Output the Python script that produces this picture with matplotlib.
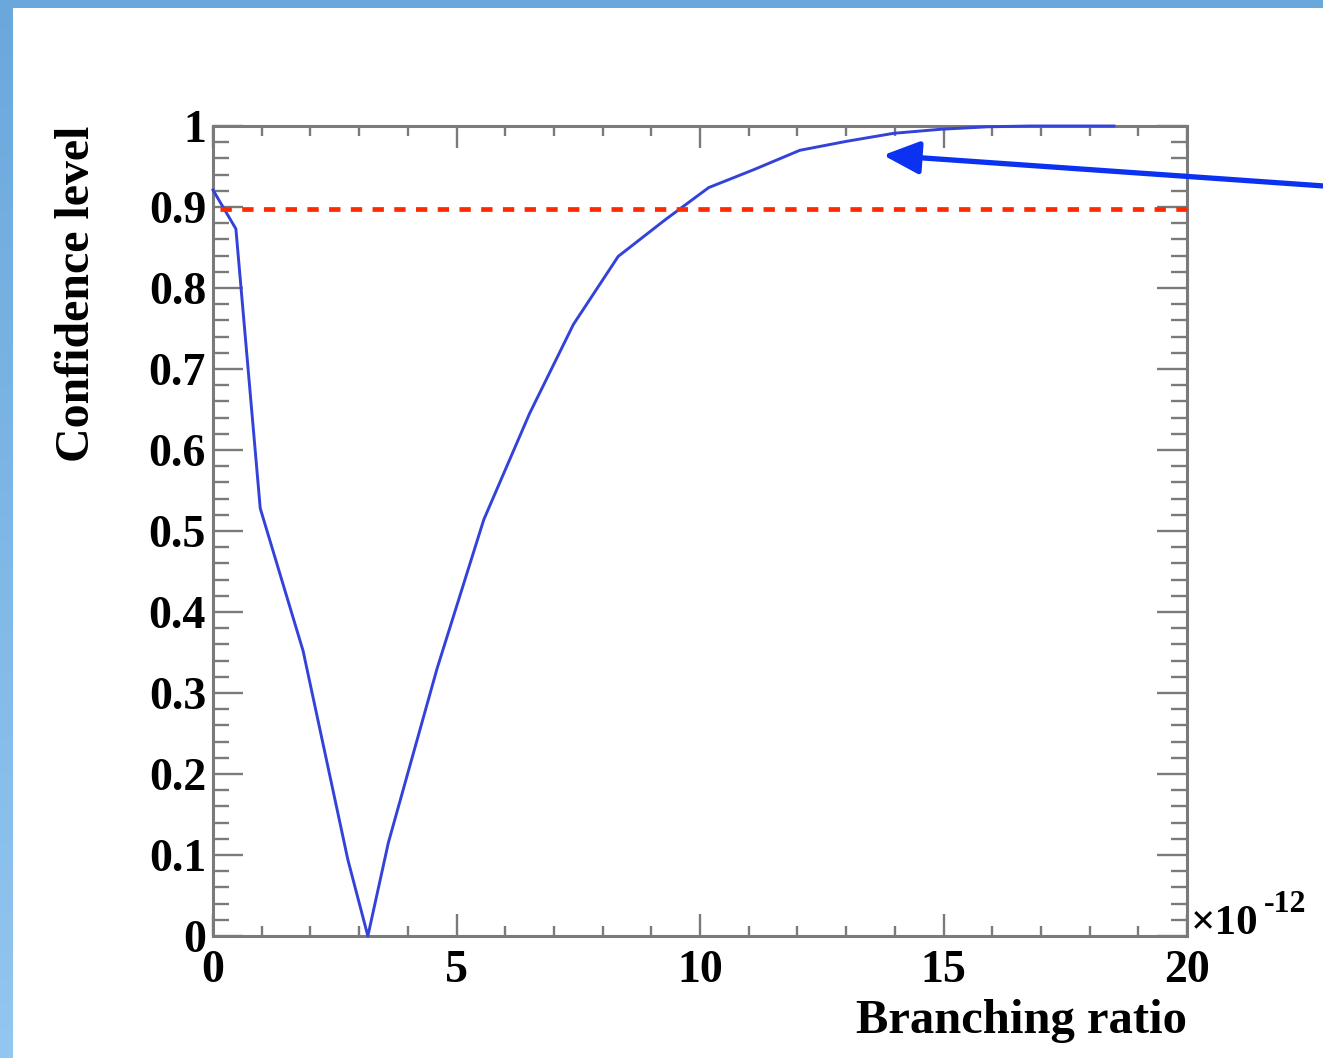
import numpy as np
import matplotlib
matplotlib.use("Agg")
import matplotlib.pyplot as plt
from matplotlib.ticker import MultipleLocator, FixedLocator
from matplotlib.colors import LinearSegmentedColormap

# ---- data ----
branching_ratio = [0.0, 0.47, 0.97, 1.85, 2.77, 3.18, 3.6, 4.6, 5.56, 6.5, 7.4, 8.32,
                   9.28, 10.18, 11.1, 12.05, 13.0, 13.98, 14.95, 15.9, 16.8, 17.7, 18.5]
confidence = [0.921, 0.873, 0.528, 0.352, 0.094, 0.0, 0.115, 0.330, 0.514, 0.645, 0.755,
              0.839, 0.884, 0.924, 0.946, 0.970, 0.981, 0.991, 0.996, 0.999, 1.0, 1.0, 1.0]
cl_level = 0.897
cl_range = [0.14, 20.05]
x_ticks = [0, 5, 10, 15, 20]
x_ticklabels = ["0", "5", "10", "15", "20"]
y_ticks = [0.0, 0.1, 0.2, 0.3, 0.4, 0.5, 0.6, 0.7, 0.8, 0.9, 1.0]
y_ticklabels = ["0", "0.1", "0.2", "0.3", "0.4", "0.5", "0.6", "0.7", "0.8", "0.9", "1"]
arrow_tip = (13.76, 0.964)
arrow_tail = (22.8, 0.926)

W, H = 1323, 1058
fig = plt.figure(figsize=(W / 100, H / 100), dpi=100)
fig.patch.set_facecolor("white")

# background frame (blue strips at left and top)
bg = fig.add_axes([0, 0, 1, 1], zorder=-10)
bg.set_xlim(0, W)
bg.set_ylim(H, 0)
bg.axis("off")
grad = np.linspace(0, 1, 256).reshape(-1, 1)
cmap = LinearSegmentedColormap.from_list("bl", ["#6aa8dc", "#93c6f0"])
bg.imshow(grad, cmap=cmap, extent=[0, 13, H, 0], aspect="auto")
bg.add_patch(plt.Rectangle((0, 0), W, 8, color="#6aa8dc", lw=0))

font = "Liberation Serif"
ax = fig.add_axes([213 / W, 1 - 936 / H, (1187 - 213) / W, (936 - 126) / H])
ax.set_facecolor("none")
ax.set_xlim(0, 20)
ax.set_ylim(0, 1)

ax.plot(branching_ratio, confidence, color="#3342d8", lw=2.1, zorder=3, clip_on=False)
ax.plot(cl_range, [cl_level, cl_level], color="#ff2a00", lw=3.4,
        dashes=(2.4, 2.2), zorder=4, clip_on=False)

ax.xaxis.set_major_locator(FixedLocator(x_ticks))
ax.set_xticklabels(x_ticklabels)
ax.xaxis.set_minor_locator(MultipleLocator(1))
ax.yaxis.set_major_locator(FixedLocator(y_ticks))
ax.set_yticklabels(y_ticklabels)
ax.yaxis.set_minor_locator(MultipleLocator(0.02))

spine_col = "#7a7a7a"
for s in ax.spines.values():
    s.set_color(spine_col)
    s.set_linewidth(2.2)
ax.tick_params(axis="x", which="major", direction="in", top=True, length=16, width=1.7,
               color=spine_col, pad=10)
ax.tick_params(axis="x", which="minor", direction="in", top=True, length=7.5, width=1.7,
               color=spine_col)
ax.tick_params(axis="y", which="major", direction="in", right=True, length=21.5, width=1.7,
               color=spine_col, pad=5)
ax.tick_params(axis="y", which="minor", direction="in", right=True, length=11.5, width=1.7,
               color=spine_col)
for lab in ax.get_xticklabels() + ax.get_yticklabels():
    lab.set_fontfamily(font)
    lab.set_fontweight("bold")
    lab.set_fontsize(33)
    lab.set_color("black")

ax.text(-0.1396, 1.0, "Confidence level", rotation=90, ha="center", va="top",
        transform=ax.transAxes, fontfamily=font, fontweight="bold", fontsize=34.5)
ax.text(1.0, -0.1198, "Branching ratio", ha="right", va="baseline",
        transform=ax.transAxes, fontfamily=font, fontweight="bold", fontsize=35)
ax.text(1.004, 0.0025, "\u00d710", ha="left", va="baseline",
        transform=ax.transAxes, fontfamily=font, fontweight="bold", fontsize=31)
ax.text(1.079, 0.021, "-12", ha="left", va="bottom",
        transform=ax.transAxes, fontfamily=font, fontweight="bold", fontsize=23)

ax.annotate("", xy=arrow_tip, xytext=arrow_tail, xycoords="data", textcoords="data",
            annotation_clip=False,
            arrowprops=dict(arrowstyle="-|>,head_length=2.2,head_width=1.0",
                            color="#0a32f0", lw=3.8, shrinkA=0, shrinkB=0))

fig.savefig("out.png", dpi=100, facecolor="white")
